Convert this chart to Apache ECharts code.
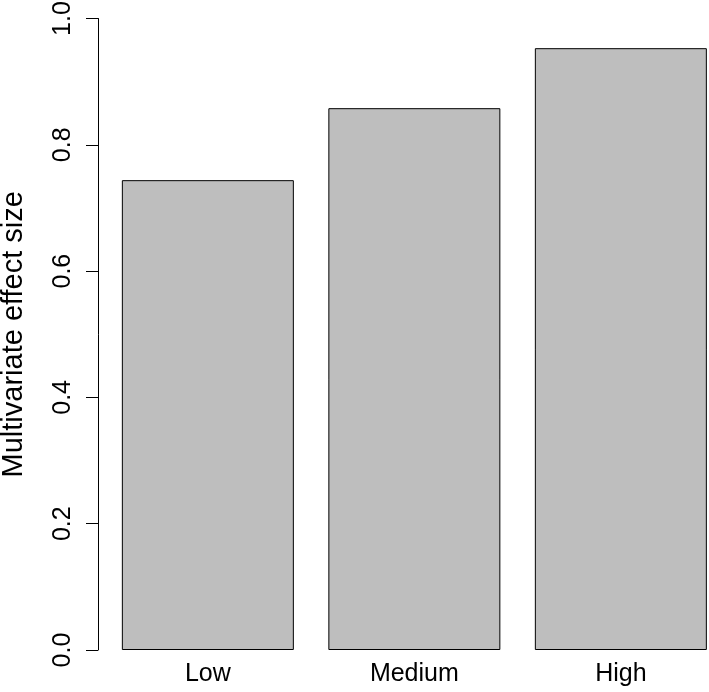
<!DOCTYPE html>
<html>
<head>
<meta charset="utf-8">
<script src="https://cdn.jsdelivr.net/npm/echarts@6/dist/echarts.min.js"></script>
<style>
  html, body { margin: 0; padding: 0; background: #fff; }
  #main { width: 709px; height: 692px; }
</style>
</head>
<body>
<div id="main"></div>
<script>
var myChart = echarts.init(document.getElementById('main'));

// groups along the x axis
var categories = ['Low', 'Medium', 'High'];
// bar heights
var effectSize = [0.744, 0.858, 0.953];
var yTicks = [0, 0.2, 0.4, 0.6, 0.8, 1.0];

var font = 'Liberation Sans, Arial, Helvetica, sans-serif';

var option = {
    animation: false,
    backgroundColor: '#fff',
    grid: {
        left: 104.6,
        top: 18.5,
        bottom: 42,
        width: 619.5,
        containLabel: false,
        outerBoundsMode: 'none'
    },
    xAxis: {
        type: 'category',
        data: categories,
        axisLine: {show: false},
        axisTick: {show: false},
        axisLabel: {
            margin: 12,
            color: '#000',
            fontSize: 25,
            fontFamily: font
        }
    },
    yAxis: {
        type: 'value',
        min: yTicks[0],
        max: yTicks[yTicks.length - 1],
        interval: 0.2,
        offset: 6.6,
        name: 'Multivariate effect size',
        nameLocation: 'middle',
        nameGap: 70,
        nameTextStyle: {
            color: '#000',
            fontSize: 29,
            fontFamily: font
        },
        axisLine: {show: true, lineStyle: {color: '#000', width: 1}},
        axisTick: {show: true, length: 12, lineStyle: {color: '#000', width: 1}},
        splitLine: {show: false},
        axisLabel: {
            rotate: 90,
            margin: 22,
            color: '#000',
            fontSize: 25,
            fontFamily: font,
            formatter: function (v) { return v.toFixed(1); }
        }
    },
    series: [
        {
            type: 'bar',
            data: effectSize,
            barWidth: 172,
            itemStyle: {
                color: '#bebebe',
                borderColor: '#000',
                borderWidth: 1
            }
        }
    ]
};

myChart.setOption(option);
</script>
</body>
</html>
